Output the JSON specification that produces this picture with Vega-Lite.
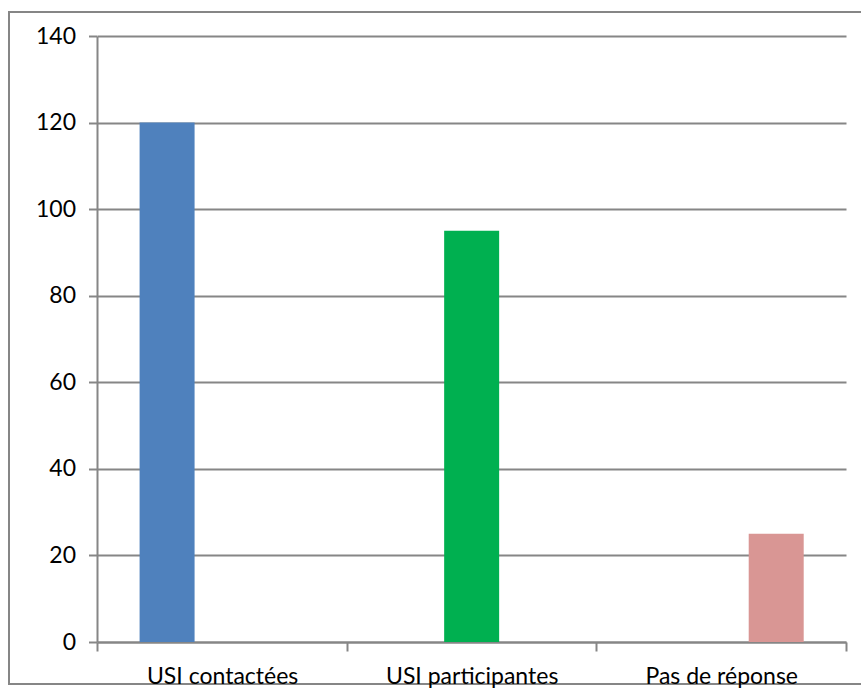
{
  "$schema": "https://vega.github.io/schema/vega-lite/v6.json",
  "width": 853,
  "height": 672,
  "autosize": "none",
  "padding": {"left": 9, "top": 12, "right": 0, "bottom": 10},
  "background": "white",
  "config": {
    "font": "Lato",
    "view": {"stroke": "#868686", "strokeWidth": 2}
  },
  "data": {
    "values": [
      {"categorie": "USI contactées", "nombre": 120},
      {"categorie": "USI participantes", "nombre": 95},
      {"categorie": "Pas de réponse", "nombre": 25}
    ]
  },
  "mark": {"type": "bar"},
  "encoding": {
    "x": {
      "field": "categorie",
      "type": "nominal",
      "sort": null,
      "scale": {"range": [88.3, 837], "paddingInner": 0, "paddingOuter": 0},
      "axis": {
        "title": null,
        "orient": "bottom",
        "offset": -42,
        "labelAngle": 0,
        "tickBand": "extent",
        "grid": false,
        "domainColor": "#868686",
        "domainWidth": 2,
        "tickColor": "#868686",
        "tickWidth": 2,
        "tickSize": 9,
        "labelFontSize": 23,
        "labelColor": "#000000",
        "labelPadding": 14
      }
    },
    "xOffset": {
      "field": "categorie",
      "type": "nominal",
      "sort": null,
      "scale": {"paddingInner": 0, "paddingOuter": 0.769}
    },
    "y": {
      "field": "nombre",
      "type": "quantitative",
      "scale": {"domain": [0, 140], "range": [630, 24], "nice": false},
      "axis": {
        "title": null,
        "orient": "left",
        "offset": -88,
        "values": [0, 20, 40, 60, 80, 100, 120, 140],
        "grid": true,
        "gridColor": "#868686",
        "gridWidth": 2,
        "domainColor": "#868686",
        "domainWidth": 2,
        "tickColor": "#868686",
        "tickWidth": 2,
        "tickSize": 8.5,
        "labelFontSize": 23,
        "labelColor": "#000000",
        "labelPadding": 13
      }
    },
    "color": {
      "field": "categorie",
      "type": "nominal",
      "sort": null,
      "scale": {"range": ["#4F81BD", "#00B050", "#D99694"]},
      "legend": null
    }
  }
}
